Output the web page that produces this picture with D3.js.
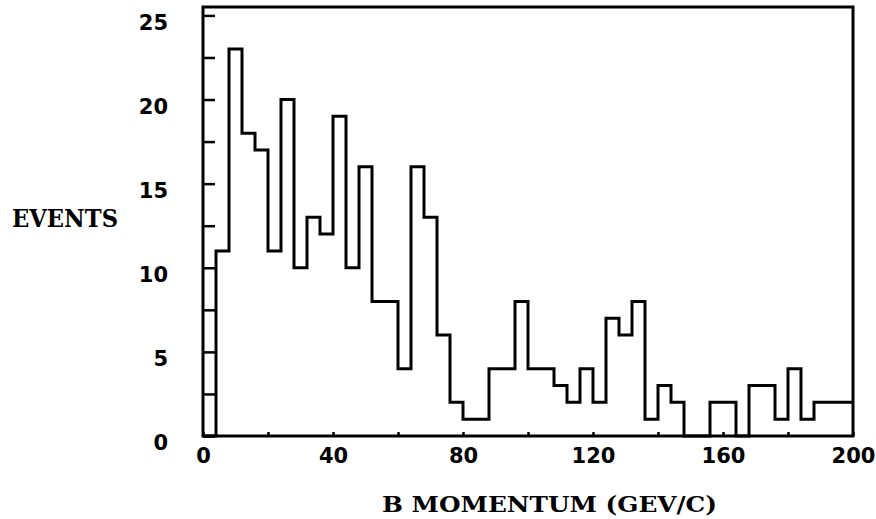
<!DOCTYPE html>
<html>
<head>
<meta charset="utf-8">
<script src="https://cdn.jsdelivr.net/npm/d3@7"></script>
<style>
  body { margin: 0; background: #fff; }
  svg { display: block; }
</style>
</head>
<body>
<div id="chart"></div>
<script>
// histogram of B momentum, bins of 4 GeV/c starting at 0
const binLows = d3.range(0, 200, 4);
const counts = [
    0, 11, 23, 18, 17, 11, 20, 10, 13, 12,
    19, 10, 16, 8, 8, 4, 16, 13, 6, 2,
    1, 1, 4, 4, 8, 4, 4, 3, 2, 4,
    2, 7, 6, 8, 1, 3, 2, 0, 0, 2,
    2, 0, 3, 3, 1, 4, 1, 2, 2, 2
];
const xTicks = d3.range(0, 201, 20);
const xLabels = [0, 40, 80, 120, 160, 200];
const yTicks = d3.range(0, 25.1, 2.5);
const yLabels = [0, 5, 10, 15, 20, 25];

const width = 876, height = 519;
const x = d3.scaleLinear().domain([0, 200]).range([203, 853]);
const y = d3.scaleLinear().domain([0, 25.5]).range([436, 7]);

const svg = d3.select('#chart').append('svg')
    .attr('width', width)
    .attr('height', height);

// frame
svg.append('rect')
    .attr('x', x(0)).attr('y', y(25.5))
    .attr('width', x(200) - x(0))
    .attr('height', y(0) - y(25.5))
    .attr('fill', 'none')
    .attr('stroke', '#000')
    .attr('stroke-width', 3);

const tickFont = 'DejaVu Sans, sans-serif';

const yAxis = svg.append('g')
    .attr('transform', `translate(${x(0)},0)`)
    .call(d3.axisLeft(y)
        .tickValues(yTicks)
        .tickSize(-12)
        .tickSizeOuter(0)
        .tickPadding(35)
        .tickFormat(d => yLabels.includes(d) ? d : ''));
yAxis.select('.domain').remove();
yAxis.selectAll('line').attr('stroke-width', 2.5);
yAxis.selectAll('text')
    .attr('dy', '0.65em')
    .attr('font-family', tickFont)
    .attr('font-weight', 'bold')
    .attr('font-size', 21)
    .attr('fill', '#000');

const xAxis = svg.append('g')
    .attr('transform', `translate(0,${y(0)})`)
    .call(d3.axisBottom(x)
        .tickValues(xTicks)
        .tickSize(-4)
        .tickSizeOuter(0)
        .tickPadding(12)
        .tickFormat(d => xLabels.includes(d) ? d : ''));
xAxis.select('.domain').remove();
xAxis.selectAll('line').attr('stroke-width', 2.5);
xAxis.selectAll('text')
    .attr('font-family', tickFont)
    .attr('font-weight', 'bold')
    .attr('font-size', 21)
    .attr('fill', '#000');

// step outline
const pts = [];
binLows.forEach((lo, i) => {
    pts.push([lo, counts[i]]);
    pts.push([lo + 4, counts[i]]);
});
const line = d3.line()
    .x(d => x(d[0]))
    .y(d => y(d[1]));
svg.append('path')
    .datum(pts)
    .attr('d', line)
    .attr('fill', 'none')
    .attr('stroke', '#000')
    .attr('stroke-width', 3)
    .attr('stroke-linejoin', 'miter');

// titles
svg.append('text')
    .text('EVENTS')
    .attr('x', 12).attr('y', 227)
    .attr('textLength', 106)
    .attr('lengthAdjust', 'spacingAndGlyphs')
    .attr('font-family', 'DejaVu Serif, serif')
    .attr('font-weight', 'bold')
    .attr('font-size', 25);

svg.append('text')
    .text('B MOMENTUM (GEV/C)')
    .attr('x', 382).attr('y', 512)
    .attr('textLength', 335)
    .attr('lengthAdjust', 'spacingAndGlyphs')
    .attr('font-family', 'DejaVu Serif, serif')
    .attr('font-weight', 'bold')
    .attr('font-size', 23);
</script>
</body>
</html>
